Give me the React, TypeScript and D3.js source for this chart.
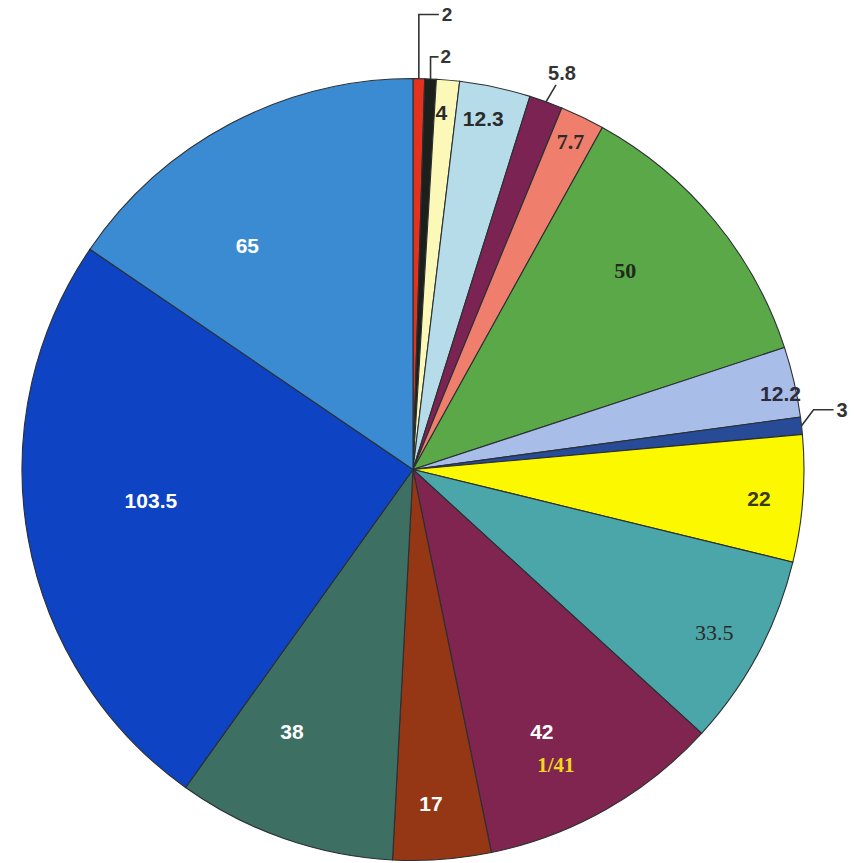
import React from 'react';
import * as d3 from 'd3';

// slice values, clockwise from 12 o'clock
const values = [2, 2, 4, 12.3, 5.8, 7.7, 50, 12.2, 3, 22, 33.5, 42, 17, 38, 103.5, 65];
const labels = ['2', '2', '4', '12.3', '5.8', '7.7', '50', '12.2', '3', '22', '33.5', '42', '17', '38', '103.5', '65'];
const colors = [
  '#e5321e', '#1c1f1a', '#fbf8b8', '#b6dce9', '#7b2352', '#ef7f6c', '#5aa847', '#a9bde9',
  '#284b98', '#fcf800', '#4aa6a8', '#7f2550', '#953614', '#3d6f63', '#0e44c4', '#3b8bd2',
];

// label styling per slice (not data)
const textColor = [
  '#2b2b2b', '#2b2b2b', '#2b2b2b', '#2b2b2b', '#2b2b2b', '#2b2b2b', '#1f2a1a', '#2b2b3b',
  '#2b4a3b', '#3a3a1a', '#2a2a2a', '#ffffff', '#ffffff', '#ffffff', '#ffffff', '#ffffff',
];
const serif = [false, false, false, false, false, true, true, false, false, false, true, false, false, false, false, false];
const labelRadius = [0, 0, 0.915, 0.915, 0, 0.93, 0.745, 0.96, 0, 0.888, 0.876, 0.747, 0.855, 0.738, 0.675, 0.713];
const labelTurn = [0, 0, -0.6, -0.8, 0, 0, -3.6, 1.2, 0, 0.5, 0.3, 3.4, 1.2, 5.5, 3.4, -8.6];

// slices whose label sits outside with a leader line
const outside: Record<number, { pts: [number, number][]; text: [number, number]; anchor: string; size: number }> = {
  0: { pts: [[0, -64], [20, -64]], text: [23, -64], anchor: 'start', size: 19 },
  1: { pts: [[0, -22], [8, -22]], text: [10, -22], anchor: 'start', size: 19 },
  4: { pts: [[10, -17]], text: [16, -29], anchor: 'middle', size: 20 },
  8: { pts: [[12, -16], [32, -16]], text: [35, -16], anchor: 'start', size: 20 },
};

const W = 857;
const H = 863;
const cx = 413;
const cy = 469.5;
const R = 391;

const App = () => {
  const pie = d3.pie<number>().sort(null).value(d => d).startAngle(0).endAngle(2 * Math.PI);
  const arcs = pie(values);
  const arc = d3.arc<d3.PieArcDatum<number>>().innerRadius(0).outerRadius(R);

  const polar = (a: number, r: number): [number, number] => [Math.sin(a) * r, -Math.cos(a) * r];

  return (
    <svg width={W} height={H} style={{ position: 'absolute', left: 0, top: 0, background: '#fff' }}>
      <g transform={`translate(${cx},${cy})`}>
        {arcs.map((a, i) => (
          <path key={i} d={arc(a) as string} fill={colors[i]} stroke="#2a2f33" strokeWidth={1.1} />
        ))}
        {arcs.map((a, i) => {
          const mid = (a.startAngle + a.endAngle) / 2;
          const o = outside[i];
          if (o) {
            const [x0, y0] = polar(mid, R);
            const d = 'M' + [[0, 0], ...o.pts].map(p => `${x0 + p[0]},${y0 + p[1]}`).join('L');
            return (
              <g key={'l' + i}>
                <path d={d} fill="none" stroke="#333" strokeWidth={1.6} />
                <text x={x0 + o.text[0]} y={y0 + o.text[1]} textAnchor={o.anchor} dominantBaseline="central"
                  fontFamily="'Liberation Sans', Arial, sans-serif" fontWeight="bold" fontSize={o.size} fill="#333">
                  {labels[i]}
                </text>
              </g>
            );
          }
          const [x, y] = polar(mid + (labelTurn[i] * Math.PI) / 180, R * labelRadius[i]);
          return (
            <text key={'l' + i} x={x} y={y} textAnchor="middle" dominantBaseline="central"
              fontFamily={serif[i] ? "'Liberation Serif', 'Times New Roman', serif" : "'Liberation Sans', Arial, sans-serif"}
              fontWeight={i === 10 ? 'normal' : 'bold'} fontSize={serif[i] ? 22 : 21} fill={textColor[i]}>
              {labels[i]}
            </text>
          );
        })}
        {(() => {
          // extra yellow note inside the 42 slice
          const a = arcs[11];
          const mid = (a.startAngle + a.endAngle) / 2 + (3.8 * Math.PI) / 180;
          const [x, y] = polar(mid, R * 0.84);
          return (
            <text x={x} y={y} textAnchor="middle" dominantBaseline="central"
              fontFamily="'Liberation Serif', 'Times New Roman', serif" fontWeight="bold" fontSize={21} fill="#f2d81c">
              1/41
            </text>
          );
        })()}
      </g>
    </svg>
  );
};

export default App;
